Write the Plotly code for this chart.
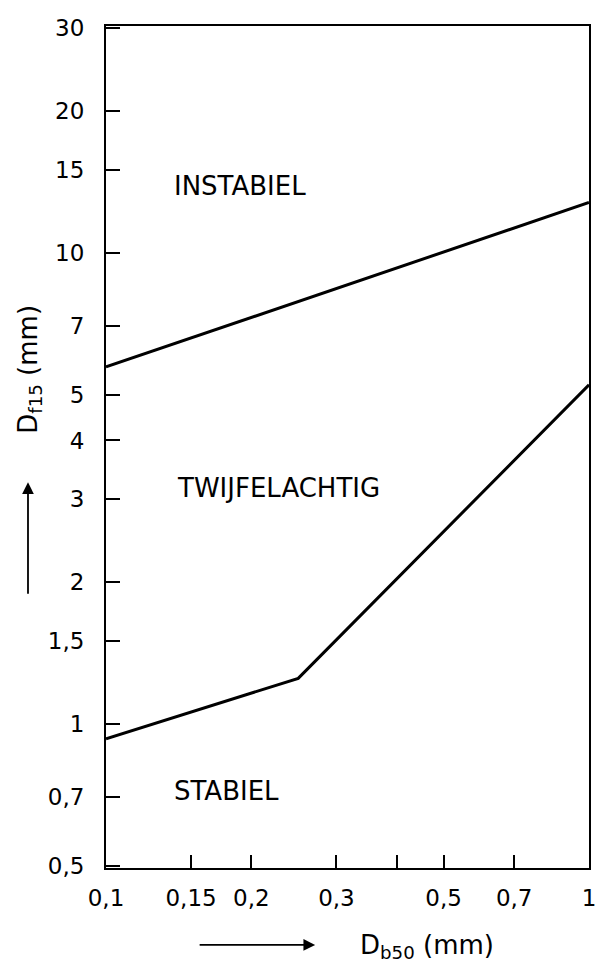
import numpy as np
import plotly.graph_objects as go

# Boundary lines (D_b50 in mm vs D_f15 in mm)
upper_x = [0.1, 1.0]
upper_y = [5.73, 12.8]
lower_x = [0.1, 0.25, 1.0]
lower_y = [0.93, 1.25, 5.25]

x_tickvals = [0.1, 0.15, 0.2, 0.3, 0.4, 0.5, 0.7, 1.0]
x_ticktext = ["0,1", "0,15", "0,2", "0,3", "", "0,5", "0,7", "1"]
y_tickvals = [0.5, 0.7, 1, 1.5, 2, 3, 4, 5, 7, 10, 15, 20, 30]
y_ticktext = ["0,5", "0,7", "1", "1,5", "2", "3", "4", "5", "7", "10", "15", "20", "30"]

zone_labels = ["INSTABIEL", "TWIJFELACHTIG", "STABIEL"]
zone_x = [0.137, 0.139, 0.137]
zone_y = [13.9, 3.17, 0.72]

FONT = "DejaVu Sans"

fig = go.Figure()
fig.add_trace(go.Scatter(x=upper_x, y=upper_y, mode="lines",
                         line=dict(color="black", width=3), showlegend=False))
fig.add_trace(go.Scatter(x=lower_x, y=lower_y, mode="lines",
                         line=dict(color="black", width=3), showlegend=False))

for t, xv, yv in zip(zone_labels, zone_x, zone_y):
    fig.add_annotation(x=np.log10(xv), y=np.log10(yv), xref="x", yref="y",
                       text=t, showarrow=False, xanchor="left", yanchor="middle",
                       font=dict(family=FONT, size=26, color="black"))

# Axis titles
fig.add_annotation(x=-0.159, y=0.592, xref="paper", yref="paper",
                   text="D<sub>f15</sub> (mm)", showarrow=False, textangle=-90,
                   xanchor="center", yanchor="middle",
                   font=dict(family=FONT, size=26, color="black"))
fig.add_annotation(x=0.664, y=-0.093, xref="paper", yref="paper",
                   text="D<sub>b50</sub> (mm)", showarrow=False,
                   xanchor="center", yanchor="middle",
                   font=dict(family=FONT, size=26, color="black"))

# Direction arrows
fig.add_annotation(x=-0.1615, y=0.458, xref="paper", yref="paper", ax=0, ay=113,
                   text="", showarrow=True, arrowhead=2, arrowsize=1.3, arrowwidth=1.8,
                   arrowcolor="black")
fig.add_annotation(x=0.433, y=-0.0914, xref="paper", yref="paper", ax=-117, ay=0,
                   text="", showarrow=True, arrowhead=2, arrowsize=1.3, arrowwidth=1.8,
                   arrowcolor="black")

fig.update_xaxes(type="log", range=[-1, 0], tickvals=x_tickvals, ticktext=x_ticktext,
                 ticks="inside", ticklen=13, tickwidth=1.5, tickcolor="black",
                 showline=True, linecolor="black", linewidth=2, mirror=True,
                 showgrid=False, zeroline=False, ticklabelstandoff=8, automargin=False,
                 tickfont=dict(family=FONT, size=23, color="black"))
fig.update_yaxes(type="log", range=[-0.3057, 1.482], tickvals=y_tickvals, ticktext=y_ticktext,
                 ticks="inside", ticklen=14, tickwidth=1.5, tickcolor="black",
                 showline=True, linecolor="black", linewidth=2, mirror=True,
                 showgrid=False, zeroline=False, ticklabelstandoff=15, automargin=False,
                 tickfont=dict(family=FONT, size=23, color="black"))

fig.update_layout(width=598, height=966, plot_bgcolor="white", paper_bgcolor="white",
                  margin=dict(l=106, r=9, t=26, b=98), showlegend=False)

fig.write_html("out.html", config={"displayModeBar": False},
               post_script="document.body.style.margin='0px';")
